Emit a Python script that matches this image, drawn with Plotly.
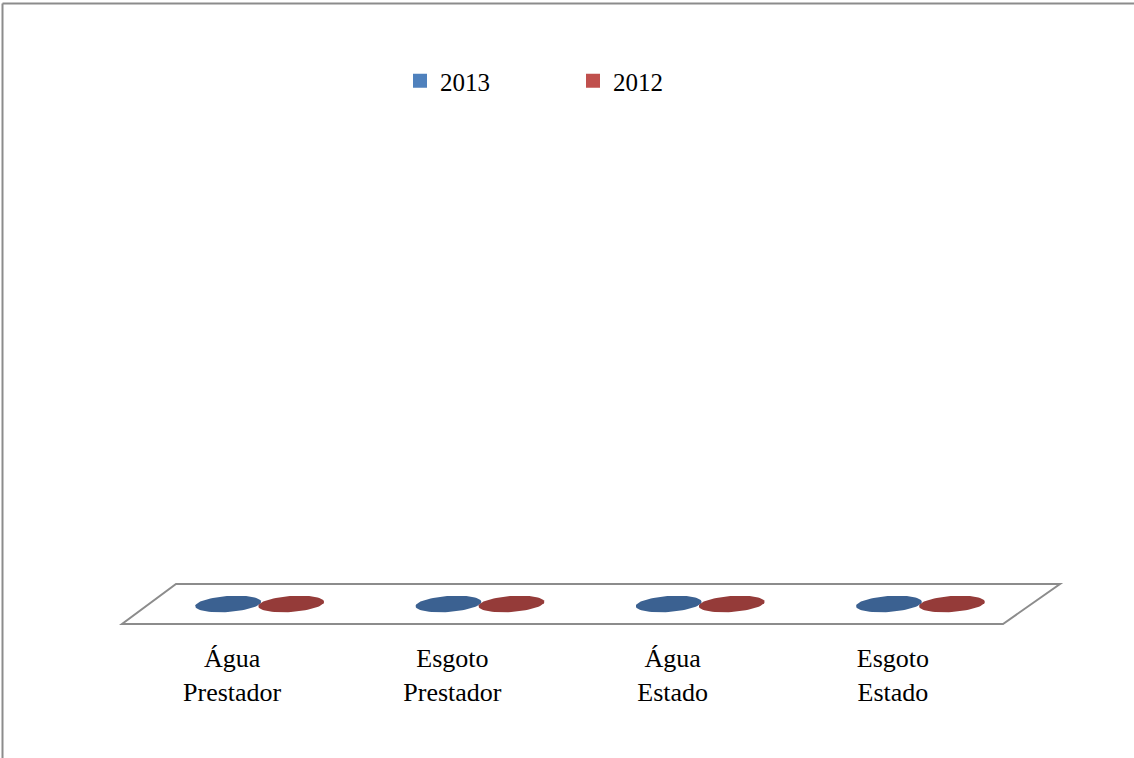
import numpy as np
import plotly.graph_objects as go

# ---- data ----
categories = ["Água Prestador", "Esgoto Prestador", "Água Estado", "Esgoto Estado"]
tick_labels = ["Água<br>Prestador", "Esgoto<br>Prestador", "Água<br>Estado", "Esgoto<br>Estado"]
series_names = ["2013", "2012"]
values_2013 = [0, 0, 0, 0]
values_2012 = [0, 0, 0, 0]

# ---- style / layout constants ----
W, H = 1134, 758
ML, MR, MT, MB = 122, 131, 110, 134
PW, PH = W - ML - MR, H - MT - MB
X_RANGE = [-0.5, 3.5]
Y_MAX = 1.0
Y_MIN = -Y_MAX * 20 / (PH - 20)
Y_RANGE = [Y_MIN, Y_MAX]
px_per_x = PW / (X_RANGE[1] - X_RANGE[0])
px_per_y = PH / (Y_RANGE[1] - Y_RANGE[0])

face_cols = ["#3B6191", "#953B39"]
legend_cols = ["#4F81BD", "#C0504D"]
FONT = "Liberation Serif, Times New Roman, serif"

depth_shift = 27.5 / px_per_x       # perspective skew of the bar row
series_off = [-31.5 / px_per_x, 31.5 / px_per_x]
A_PX, B_PX, TILT = 33.0, 8.0, np.deg2rad(4)


def ellipse(cx, cy):
    t = np.linspace(0, 2 * np.pi, 72)
    dx = A_PX * np.cos(t) * np.cos(TILT) - B_PX * np.sin(t) * np.sin(TILT)
    dy = A_PX * np.cos(t) * np.sin(TILT) + B_PX * np.sin(t) * np.cos(TILT)
    return cx + dx / px_per_x, cy + dy / px_per_y


fig = go.Figure()

for s, vals in enumerate([values_2013, values_2012]):
    for i, v in enumerate(vals):
        cx = i + depth_shift + series_off[s]
        # cylinder body (zero height when v == 0)
        if v != 0:
            x0, x1 = cx - A_PX / px_per_x, cx + A_PX / px_per_x
            fig.add_trace(go.Scatter(x=[x0, x1, x1, x0, x0], y=[0, 0, v, v, 0],
                                     mode="lines", fill="toself", line=dict(width=0),
                                     fillcolor=face_cols[s], showlegend=False,
                                     hoverinfo="skip"))
        ex, ey = ellipse(cx, v)
        fig.add_trace(go.Scatter(x=ex, y=ey, mode="lines", fill="toself",
                                 line=dict(width=0, color=face_cols[s]),
                                 fillcolor=face_cols[s], showlegend=False,
                                 hoverinfo="skip"))

for s, name in enumerate(series_names):
    fig.add_trace(go.Scatter(x=[None], y=[None], mode="markers", name=name,
                             marker=dict(symbol="square", size=14, color=legend_cols[s])))


def pxx(p):
    return (p - ML) / PW


def pxy(p):
    return (H - MB - p) / PH


# floor of the 3-D plot
floor = [(122, 624), (1003, 624), (1060, 584), (176, 584)]
path = "M " + " L ".join(f"{pxx(a):.5f},{pxy(b):.5f}" for a, b in floor) + " Z"
border_col = "#8C8C8C"
shapes = [
    dict(type="path", path=path, xref="paper", yref="paper",
         line=dict(color=border_col, width=2), fillcolor="rgba(0,0,0,0)", layer="below"),
    # chart-area frame (top and left edges; right/bottom fall outside the crop)
    dict(type="line", xref="paper", yref="paper",
         x0=pxx(2.5), x1=pxx(W + 20), y0=pxy(3.5), y1=pxy(3.5),
         line=dict(color=border_col, width=2)),
    dict(type="line", xref="paper", yref="paper",
         x0=pxx(2.5), x1=pxx(2.5), y0=pxy(3.5), y1=pxy(H + 20),
         line=dict(color=border_col, width=2)),
]

fig.update_layout(
    width=W, height=H,
    margin=dict(l=ML, r=MR, t=MT, b=MB, pad=0),
    paper_bgcolor="white", plot_bgcolor="white",
    font=dict(family=FONT, size=26, color="black"),
    shapes=shapes,
    showlegend=True,
    legend=dict(orientation="h", x=pxx(400), y=pxy(81), xanchor="left", yanchor="middle",
                font=dict(family=FONT, size=25), entrywidth=128, bgcolor="rgba(0,0,0,0)",
                itemclick=False, itemdoubleclick=False),
    xaxis=dict(range=X_RANGE, tickmode="array", tickvals=list(range(len(categories))),
               ticktext=tick_labels, showgrid=False, zeroline=False, showline=False,
               ticks="", tickfont=dict(family=FONT, size=26), ticklabelstandoff=16,
               fixedrange=True),
    yaxis=dict(range=Y_RANGE, visible=False, fixedrange=True),
    hovermode=False,
)

fig.write_html("out.html", config={"displayModeBar": False},
               post_script="document.body.style.margin='0';document.body.style.overflow='hidden';")
